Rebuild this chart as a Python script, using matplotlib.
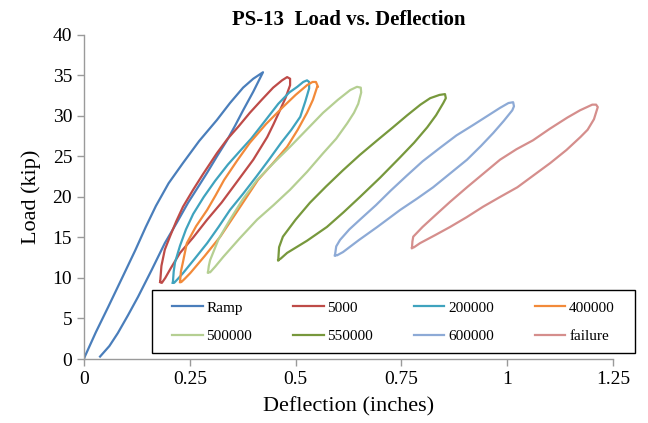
import matplotlib
matplotlib.use("Agg")
import matplotlib.pyplot as plt
from matplotlib.patches import Rectangle

plt.rcParams['font.family'] = ['Liberation Serif', 'DejaVu Serif']

# load/deflection loops, each traced up the loading side and back down
ramp_x = [0, 0.002, 0.028, 0.057, 0.090, 0.121, 0.146, 0.170, 0.200, 0.234, 0.272, 0.314, 0.345, 0.376, 0.400, 0.423,
          0.400, 0.376, 0.357, 0.338, 0.314, 0.291, 0.268, 0.246, 0.219, 0.191, 0.160, 0.128, 0.104, 0.080, 0.060, 0.038]
ramp_y = [0, 0.3, 3.3, 6.4, 10.0, 13.4, 16.3, 18.9, 21.7, 24.2, 26.9, 29.5, 31.6, 33.5, 34.6, 35.4,
          33.0, 30.7, 28.8, 27.0, 25.0, 23.0, 21.1, 19.3, 16.8, 14.3, 11.0, 7.7, 5.4, 3.2, 1.6, 0.3]

c5000_x = [0.180, 0.183, 0.191, 0.203, 0.218, 0.234, 0.258, 0.281, 0.314, 0.338, 0.365, 0.392, 0.420, 0.447, 0.468, 0.480, 0.487, 0.487,
           0.476, 0.463, 0.448, 0.433, 0.400, 0.359, 0.325, 0.291, 0.258, 0.227, 0.205, 0.192, 0.184, 0.180]
c5000_y = [9.5, 11.5, 13.5, 15.1, 17.0, 18.8, 20.9, 22.8, 25.4, 27.1, 28.7, 30.4, 32.0, 33.5, 34.4, 34.8, 34.6, 33.8,
           32.2, 30.7, 29.0, 27.4, 24.6, 21.7, 19.3, 17.2, 15.0, 13.1, 11.2, 10.0, 9.4, 9.5]

c200k_x = [0.210, 0.212, 0.215, 0.227, 0.241, 0.258, 0.283, 0.310, 0.340, 0.369, 0.395, 0.416, 0.459, 0.485, 0.504, 0.518, 0.527, 0.532, 0.532,
           0.523, 0.511, 0.490, 0.466, 0.437, 0.407, 0.376, 0.345, 0.318, 0.291, 0.262, 0.234, 0.222, 0.213, 0.210]
c200k_y = [9.4, 10.8, 11.9, 14.0, 16.0, 17.9, 20.0, 22.0, 24.0, 25.7, 27.2, 28.6, 31.5, 32.9, 33.6, 34.2, 34.4, 34.2, 33.4,
           31.8, 29.9, 28.3, 26.7, 24.6, 22.5, 20.4, 18.4, 16.3, 14.3, 12.4, 10.6, 9.9, 9.4, 9.4]

c400k_x = [0.227, 0.229, 0.234, 0.243, 0.265, 0.291, 0.311, 0.331, 0.362, 0.392, 0.430, 0.470, 0.500, 0.527, 0.540, 0.548, 0.553,
           0.551, 0.541, 0.527, 0.505, 0.480, 0.447, 0.411, 0.368, 0.322, 0.285, 0.251, 0.238, 0.230, 0.227]
c400k_y = [9.5, 10.8, 12.0, 14.3, 16.4, 18.4, 20.2, 22.1, 24.5, 26.7, 29.0, 31.1, 32.6, 33.8, 34.2, 34.2, 33.6,
           33.6, 32.0, 30.4, 28.3, 26.2, 24.2, 22.1, 18.7, 15.1, 12.7, 10.6, 9.9, 9.5, 9.5]

c500k_x = [0.293, 0.295, 0.298, 0.318, 0.345, 0.375, 0.409, 0.448, 0.487, 0.526, 0.565, 0.600, 0.629, 0.645, 0.654, 0.655,
           0.648, 0.638, 0.622, 0.596, 0.565, 0.527, 0.487, 0.448, 0.409, 0.368, 0.329, 0.310, 0.298, 0.293]
c500k_y = [10.7, 11.5, 12.2, 14.8, 17.2, 19.7, 22.1, 24.2, 26.2, 28.3, 30.4, 32.0, 33.2, 33.6, 33.5, 32.9,
           31.5, 30.4, 29.1, 27.2, 25.4, 23.1, 20.9, 19.0, 17.2, 14.9, 12.6, 11.4, 10.7, 10.7]

c550k_x = [0.459, 0.461, 0.470, 0.500, 0.534, 0.572, 0.612, 0.652, 0.693, 0.730, 0.764, 0.795, 0.818, 0.840, 0.853, 0.855,
           0.849, 0.832, 0.811, 0.780, 0.747, 0.700, 0.652, 0.613, 0.574, 0.527, 0.480, 0.465, 0.459]
c550k_y = [12.2, 13.8, 15.1, 17.2, 19.3, 21.3, 23.3, 25.2, 27.0, 28.6, 30.1, 31.4, 32.2, 32.6, 32.7, 32.2,
           31.6, 30.1, 28.6, 26.7, 24.9, 22.4, 20.0, 18.1, 16.3, 14.6, 13.1, 12.4, 12.2]

c600k_x = [0.593, 0.596, 0.605, 0.627, 0.652, 0.690, 0.725, 0.762, 0.800, 0.842, 0.880, 0.920, 0.953, 0.983, 1.003, 1.014, 1.016,
           1.012, 0.992, 0.967, 0.938, 0.905, 0.865, 0.825, 0.787, 0.747, 0.693, 0.650, 0.612, 0.598, 0.593]
c600k_y = [12.8, 13.9, 14.7, 16.0, 17.2, 19.0, 20.8, 22.6, 24.4, 26.1, 27.6, 28.9, 30.0, 31.0, 31.6, 31.7, 31.2,
           30.7, 29.4, 27.9, 26.3, 24.6, 22.9, 21.2, 19.8, 18.4, 16.3, 14.7, 13.2, 12.8, 12.8]

fail_x = [0.775, 0.776, 0.778, 0.800, 0.825, 0.865, 0.905, 0.944, 0.983, 1.022, 1.061, 1.100, 1.142, 1.172, 1.201, 1.210, 1.214,
          1.205, 1.190, 1.173, 1.140, 1.102, 1.063, 1.024, 0.983, 0.943, 0.904, 0.865, 0.830, 0.794, 0.780, 0.775]
fail_y = [13.7, 14.5, 15.1, 16.3, 17.5, 19.4, 21.2, 22.9, 24.6, 25.9, 27.0, 28.4, 29.8, 30.7, 31.4, 31.4, 31.1,
          29.6, 28.3, 27.4, 25.8, 24.2, 22.7, 21.2, 20.0, 18.8, 17.5, 16.3, 15.3, 14.3, 13.8, 13.7]

labels = ['Ramp', '5000', '200000', '400000', '500000', '550000', '600000', 'failure']
colors = ['#4A7EBB', '#BE4B48', '#3FA3BE', '#F28A3A', '#B5CF92', '#77983C', '#8DAAD6', '#D58E8C']
xs = [ramp_x, c5000_x, c200k_x, c400k_x, c500k_x, c550k_x, c600k_x, fail_x]
ys = [ramp_y, c5000_y, c200k_y, c400k_y, c500k_y, c550k_y, c600k_y, fail_y]

xticks = [0, 0.25, 0.5, 0.75, 1, 1.25]
xtick_labels = ['0', '0.25', '0.5', '0.75', '1', '1.25']
yticks = [0, 5, 10, 15, 20, 25, 30, 35, 40]

fig = plt.figure(figsize=(6.48, 4.23), dpi=100)
ax = fig.add_axes([0.1296, 0.1513, 0.8164, 0.7660])

lines = []
for x, y, c, lab in zip(xs, ys, colors, labels):
    ln, = ax.plot(x, y, color=c, lw=1.6, label=lab, solid_joinstyle='round')
    lines.append(ln)

ax.set_xlim(0, 1.25)
ax.set_ylim(0, 40)
ax.set_xticks(xticks)
ax.set_xticklabels(xtick_labels)
ax.set_yticks(yticks)
ax.tick_params(labelsize=14, length=5, width=1, color='#9A9A9A', direction='out')
for side in ['top', 'right']:
    ax.spines[side].set_visible(False)
for side in ['left', 'bottom']:
    ax.spines[side].set_color('#9A9A9A')
    ax.spines[side].set_linewidth(1)

ax.set_title('PS-13  Load vs. Deflection', fontsize=15, fontweight='bold', pad=7)
ax.set_xlabel('Deflection (inches)', fontsize=16, labelpad=7)
ax.set_ylabel('Load (kip)', fontsize=16, labelpad=8)

# legend box sits across the lower part of the plot, past the right edge
box = Rectangle((152 / 648, 1 - 353 / 423), (635 - 152) / 648, 63 / 423,
                transform=fig.transFigure, fill=True, facecolor='white',
                edgecolor='black', lw=1.0, zorder=5)
fig.patches.append(box)
# legend fills column by column, so interleave to read across in rows
order = [0, 4, 1, 5, 2, 6, 3, 7]
leg = fig.legend([lines[i] for i in order], [labels[i] for i in order],
                 loc='center', bbox_to_anchor=((152 + 635) / 2 / 648, 1 - 322 / 423),
                 ncol=4, frameon=False, fontsize=11, handlelength=2.0,
                 handletextpad=0.25, columnspacing=2.67, labelspacing=0.95)
leg.set_zorder(6)

fig.savefig('out.png', dpi=100)
